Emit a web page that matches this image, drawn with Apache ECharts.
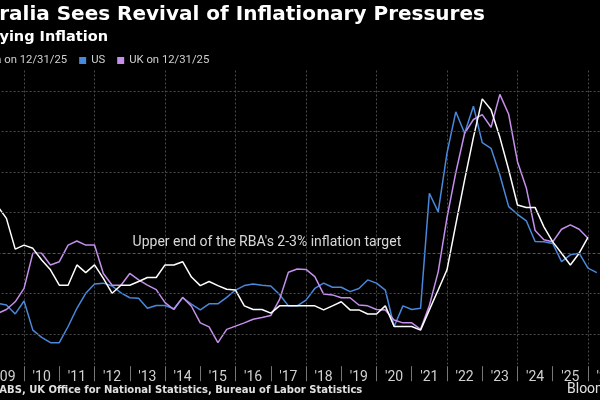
<!DOCTYPE html>
<html>
<head>
<meta charset="utf-8">
<title>Australia Sees Revival of Inflationary Pressures</title>
<script src="https://cdn.jsdelivr.net/npm/echarts@6/dist/echarts.min.js"></script>
<style>
  html, body { margin: 0; padding: 0; background: #000; }
  #chart { width: 600px; height: 400px; }
</style>
</head>
<body>
<div id="chart"></div>
<script>
// quarter-end observations, Q1 '09 onwards
const yearLabels = ["'09", "'10", "'11", "'12", "'13", "'14", "'15", "'16", "'17",
  "'18", "'19", "'20", "'21", "'22", "'23", "'24", "'25", "'26"];
const quarters = yearLabels.flatMap(y => ['Q1', 'Q2', 'Q3', 'Q4'].map(q => q + ' ' + y)).slice(0, 70);

const australia = [
  4.15, 3.85, 3.09, 3.19,
  3.11, 2.82, 2.58, 2.20,
  2.20, 2.70, 2.51, 2.70,
  2.37, 2.00, 2.20, 2.20,
  2.29, 2.39, 2.39, 2.70,
  2.70, 2.78, 2.40, 2.19,
  2.29, 2.19, 2.10, 2.08,
  1.69, 1.60, 1.60, 1.51,
  1.69, 1.69, 1.69, 1.69,
  1.69, 1.59, 1.69, 1.79,
  1.59, 1.59, 1.49, 1.49,
  1.69, 1.18, 1.18, 1.18,
  1.09, 1.59, 2.08, 2.58,
  3.70, 4.80, 5.85, 6.80,
  6.53, 5.85, 5.05, 4.18,
  4.12, 4.12, 3.64, 3.27,
  2.99, 2.70, 2.99, 3.38
];
const us = [
  1.75, 1.71, 1.49, 1.81,
  1.09, 0.91, 0.78, 0.78,
  1.18, 1.63, 2.00, 2.23,
  2.25, 2.18, 2.01, 1.89,
  1.88, 1.63, 1.70, 1.70,
  1.62, 1.89, 1.73, 1.59,
  1.74, 1.74, 1.90, 2.08,
  2.19, 2.23, 2.20, 2.18,
  1.97, 1.69, 1.69, 1.83,
  2.12, 2.25, 2.15, 2.15,
  2.04, 2.12, 2.33, 2.25,
  2.08, 1.18, 1.69, 1.60,
  1.63, 4.47, 4.01, 5.46,
  6.48, 5.95, 6.62, 5.72,
  5.58, 4.92, 4.14, 3.95,
  3.79, 3.28, 3.27, 3.23,
  2.78, 2.95, 2.99, 2.62,
  2.51
];
const uk = [
  1.50, 1.60, 1.79, 2.12,
  2.99, 2.99, 2.70, 2.78,
  3.19, 3.29, 3.19, 3.19,
  2.49, 2.20, 2.20, 2.49,
  2.33, 2.20, 2.09, 1.77,
  1.60, 1.90, 1.68, 1.27,
  1.17, 0.78, 1.11, 1.19,
  1.27, 1.36, 1.40, 1.45,
  1.85, 2.52, 2.60, 2.59,
  2.41, 1.98, 1.96, 1.89,
  1.89, 1.71, 1.69, 1.60,
  1.59, 1.34, 1.27, 1.27,
  1.11, 1.70, 2.53, 3.87,
  4.98, 5.95, 6.29, 6.41,
  6.10, 6.91, 6.42, 5.25,
  4.60, 3.55, 3.32, 3.27,
  3.58, 3.69, 3.58, 3.36
];
const gridLevels = [1, 2, 4, 5, 6, 7];
const rbaTarget = 3;

const chart = echarts.init(document.getElementById('chart'));

const option = {
  backgroundColor: '#000',
  animation: false,
  title: [
    {
      text: 'Australia Sees Revival of Inflationary Pressures',
      left: -52, top: 5, padding: 0,
      textStyle: {color: '#fff', fontSize: 20, fontWeight: 'bold', fontFamily: 'DejaVu Sans'}
    },
    {
      text: 'Underlying Inflation',
      left: -55, top: 30, padding: 0,
      textStyle: {color: '#fff', fontSize: 14.5, fontWeight: 'bold', fontFamily: 'DejaVu Sans'}
    },
    {
      text: 'Source: ABS, UK Office for National Statistics, Bureau of Labor Statistics',
      left: -47, top: 385, padding: 0,
      textStyle: {color: '#e0e0e0', fontSize: 10, fontWeight: 'bold', fontFamily: 'DejaVu Sans'}
    },
    {
      text: 'Bloomberg',
      left: 567, top: 382, padding: 0,
      textStyle: {color: '#e0e0e0', fontSize: 14, fontWeight: 'normal', fontFamily: 'Roboto'}
    }
  ],
  legend: {
    data: ['Australia on 12/31/25', 'US', 'UK on 12/31/25'],
    left: -55, top: 55, padding: 0,
    icon: 'rect', itemWidth: 7, itemHeight: 7, itemGap: 12,
    textStyle: {color: '#d0d0d0', fontSize: 11.3, fontFamily: 'Roboto'}
  },
  grid: {left: -2.4, right: -5.6, top: 70.5, bottom: 33.8, containLabel: false, outerBoundsMode: 'none'},
  xAxis: {
    type: 'category',
    data: quarters,
    boundaryGap: false,
    axisLine: {show: false},
    axisTick: {
      show: true, length: 15, interval: idx => idx % 4 === 3,
      lineStyle: {color: '#777', width: 1}
    },
    axisLabel: {
      interval: idx => idx % 4 === 1,
      formatter: v => v.split(' ')[1],
      color: '#d0d0d0', fontSize: 14, fontFamily: 'Roboto', margin: 4
    },
    splitLine: {
      show: true, interval: idx => idx % 8 === 3,
      lineStyle: {color: '#4a4a4a', type: [2, 2], width: 1}
    }
  },
  yAxis: {
    type: 'value',
    min: 0.2, max: 7.5,
    axisLine: {show: false},
    axisTick: {show: false},
    axisLabel: {show: false},
    splitLine: {show: false}
  },
  series: [
    {
      name: 'Australia on 12/31/25',
      type: 'line',
      data: australia,
      showSymbol: false,
      itemStyle: {color: '#ffffff'},
      lineStyle: {color: '#ffffff', width: 1.5},
      z: 3,
      markLine: {
        symbol: 'none', silent: true,
        label: {show: false},
        lineStyle: {color: '#4a4a4a', type: [2, 2], width: 1},
        data: [
          ...gridLevels.map(v => ({yAxis: v})),
          {
            yAxis: rbaTarget,
            lineStyle: {color: '#c4262e', type: [3, 2], width: 1},
            label: {
              show: true, position: 'insideStartTop', distance: 3,
              formatter: "Upper end of the RBA's 2-3% inflation target",
              color: '#d8d8d8', fontSize: 14, fontFamily: 'Roboto',
              padding: [0, 0, 0, 132]
            }
          }
        ]
      }
    },
    {
      name: 'US',
      type: 'line',
      data: us,
      showSymbol: false,
      itemStyle: {color: '#4a88dc'},
      lineStyle: {color: '#4a88dc', width: 1.5},
      z: 2
    },
    {
      name: 'UK on 12/31/25',
      type: 'line',
      data: uk,
      showSymbol: false,
      itemStyle: {color: '#c58fec'},
      lineStyle: {color: '#c58fec', width: 1.5},
      z: 2
    }
  ]
};

chart.setOption(option);
</script>
</body>
</html>
